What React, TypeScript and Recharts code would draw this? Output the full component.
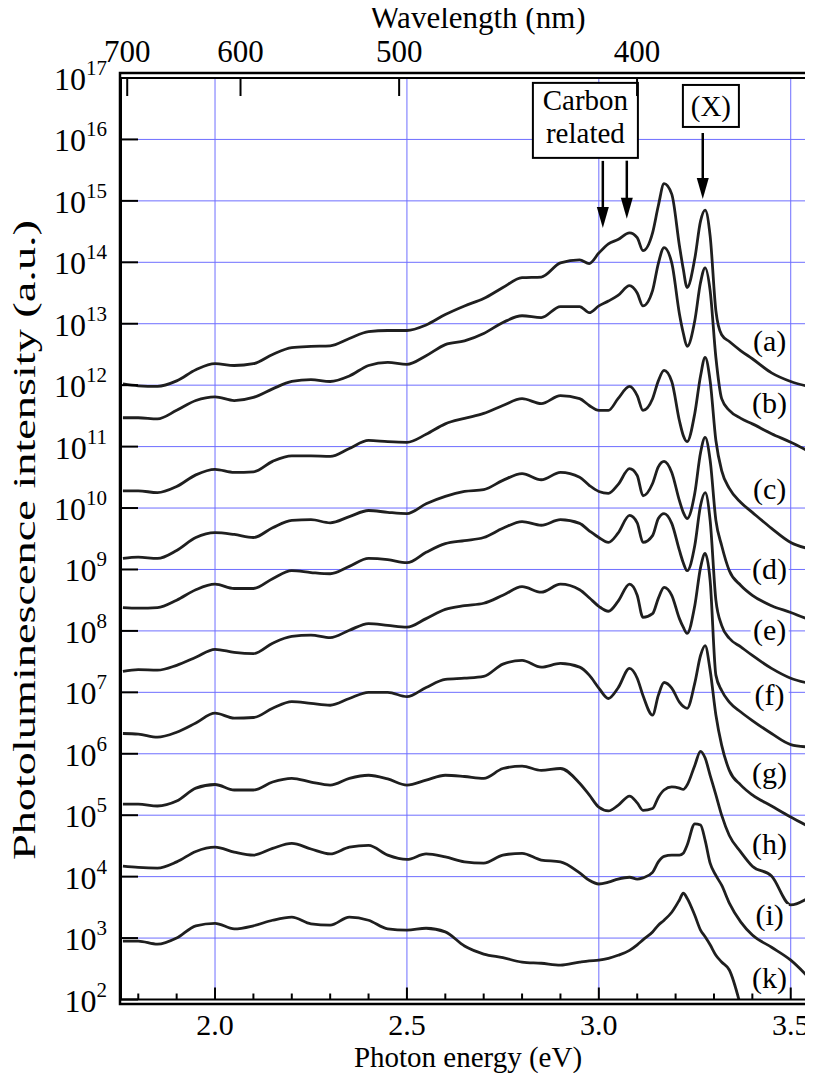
import { LineChart, Line, XAxis, YAxis, ReferenceLine, ReferenceDot } from 'recharts';

const SERIF = '"Liberation Serif", "Times New Roman", Times, serif';
const INK = '#1f1f1f';
const GRID = '#6e6eff';
const HC = 1239.84; // eV * nm

// photon energy grid (eV)
const energies = [
  1.76, 1.8, 1.85, 1.9, 1.95, 2.0, 2.05, 2.1, 2.15, 2.2, 2.25, 2.3, 2.35, 2.4, 2.45, 2.5, 2.55, 2.6, 2.65, 2.7, 2.75, 2.8, 2.85, 2.9, 2.95,
  2.975, 3.0, 3.025, 3.05, 3.08, 3.1, 3.115, 3.14, 3.155, 3.17, 3.19, 3.21, 3.22, 3.23, 3.25, 3.265, 3.277, 3.29, 3.305, 3.32, 3.34, 3.37, 3.4, 3.45, 3.5, 3.545,
];

// log10 of PL intensity per sample (curves are stacked by offset)
const logA = [
  12.02, 11.99, 11.98, 12.07, 12.25, 12.35, 12.32, 12.35, 12.5, 12.61, 12.63, 12.64, 12.76, 12.87, 12.89, 12.89, 12.98, 13.15, 13.29, 13.41, 13.59, 13.75, 13.76, 13.99, 14.04,
  13.98, 14.15, 14.3, 14.37, 14.48, 14.4, 14.19, 14.48, 14.92, 15.28, 15.11, 14.27, 13.89, 13.59, 14.06, 14.67, 14.85, 14.43, 13.21, 12.82, 12.71, 12.56, 12.43, 12.2, 12.06, 11.98,
];
const logB = [
  11.47, 11.47, 11.45, 11.59, 11.75, 11.81, 11.75, 11.8, 11.94, 12.06, 12.09, 12.06, 12.15, 12.32, 12.37, 12.34, 12.48, 12.66, 12.72, 12.84, 13.02, 13.13, 13.1, 13.28, 13.28,
  13.18, 13.29, 13.37, 13.46, 13.62, 13.5, 13.29, 13.54, 13.98, 14.24, 13.99, 13.16, 12.85, 12.63, 13.05, 13.67, 13.91, 13.54, 12.45, 11.78, 11.59, 11.46, 11.37, 11.21, 11.07, 10.93,
];
const logC = [
  10.28, 10.28, 10.25, 10.35, 10.54, 10.63, 10.58, 10.59, 10.76, 10.85, 10.85, 10.84, 10.97, 11.1, 11.08, 11.07, 11.2, 11.37, 11.46, 11.54, 11.67, 11.78, 11.7, 11.83, 11.78,
  11.67, 11.59, 11.59, 11.78, 11.98, 11.83, 11.59, 11.78, 12.07, 12.24, 12.06, 11.42, 11.18, 11.08, 11.54, 12.15, 12.45, 12.07, 11.1, 10.61, 10.32, 10.09, 9.93, 9.67, 9.44, 9.34,
];
const logD = [
  9.18, 9.2, 9.18, 9.31, 9.52, 9.6, 9.57, 9.52, 9.68, 9.8, 9.81, 9.76, 9.86, 9.96, 9.93, 9.91, 10.07, 10.19, 10.27, 10.3, 10.45, 10.56, 10.46, 10.58, 10.5,
  10.37, 10.27, 10.24, 10.38, 10.64, 10.53, 10.2, 10.4, 10.67, 10.76, 10.58, 10.12, 9.93, 9.83, 10.24, 10.9, 11.15, 10.78, 9.8, 9.39, 8.98, 8.74, 8.58, 8.41, 8.3, 8.19,
];
const logE = [
  8.38, 8.37, 8.38, 8.5, 8.67, 8.76, 8.69, 8.69, 8.85, 8.98, 8.95, 8.93, 9.05, 9.18, 9.16, 9.11, 9.28, 9.42, 9.47, 9.52, 9.67, 9.78, 9.72, 9.81, 9.75,
  9.63, 9.52, 9.44, 9.59, 9.88, 9.76, 9.44, 9.55, 9.83, 9.91, 9.75, 9.31, 9.11, 8.98, 9.39, 10.04, 10.25, 9.8, 8.5, 8.09, 7.88, 7.74, 7.6, 7.39, 7.23, 7.15,
];
const logF = [
  7.34, 7.37, 7.36, 7.44, 7.57, 7.7, 7.65, 7.63, 7.8, 7.91, 7.93, 7.89, 8.01, 8.12, 8.09, 8.06, 8.2, 8.35, 8.41, 8.45, 8.58, 8.72, 8.63, 8.76, 8.67,
  8.54, 8.4, 8.32, 8.48, 8.76, 8.58, 8.22, 8.28, 8.53, 8.71, 8.58, 8.2, 8.06, 7.96, 8.41, 9.03, 9.26, 8.82, 7.28, 7.03, 6.84, 6.68, 6.54, 6.33, 6.15, 6.11,
];
const logG = [
  6.33, 6.32, 6.27, 6.35, 6.5, 6.66, 6.58, 6.59, 6.74, 6.85, 6.82, 6.79, 6.9, 7.0, 7.0, 6.93, 7.08, 7.21, 7.23, 7.26, 7.46, 7.52, 7.41, 7.47, 7.41,
  7.28, 7.07, 6.9, 7.07, 7.39, 7.23, 6.95, 6.63, 6.95, 7.16, 7.07, 6.84, 6.77, 6.74, 7.15, 7.6, 7.76, 7.36, 6.63, 6.14, 5.73, 5.49, 5.33, 5.15, 4.97, 4.82,
];
const logH = [
  5.18, 5.18, 5.15, 5.23, 5.44, 5.5, 5.41, 5.41, 5.54, 5.6, 5.54, 5.49, 5.6, 5.65, 5.59, 5.49, 5.57, 5.65, 5.63, 5.6, 5.76, 5.8, 5.73, 5.76, 5.52,
  5.33, 5.13, 5.07, 5.16, 5.31, 5.2, 5.08, 5.11, 5.29, 5.41, 5.46, 5.44, 5.42, 5.49, 5.81, 6.04, 5.93, 5.65, 5.33, 5.0, 4.67, 4.4, 4.17, 4.01, 3.54, 3.65,
];
const logI = [
  4.17, 4.15, 4.14, 4.24, 4.41, 4.48, 4.4, 4.35, 4.46, 4.54, 4.45, 4.37, 4.48, 4.51, 4.35, 4.28, 4.37, 4.32, 4.24, 4.22, 4.35, 4.38, 4.27, 4.24, 4.06,
  3.94, 3.88, 3.91, 3.96, 3.99, 3.96, 3.98, 4.07, 4.24, 4.33, 4.35, 4.35, 4.38, 4.51, 4.86, 4.84, 4.59, 4.22, 4.02, 3.86, 3.57, 3.26, 3.05, 2.85, 2.64, 2.37,
];
const logK = [
  2.95, 2.95, 2.9, 3.0, 3.2, 3.24, 3.15, 3.2, 3.29, 3.34, 3.23, 3.21, 3.34, 3.29, 3.15, 3.13, 3.16, 3.1, 2.87, 2.74, 2.68, 2.61, 2.59, 2.56, 2.61,
  2.63, 2.64, 2.67, 2.72, 2.8, 2.89, 2.97, 3.1, 3.21, 3.29, 3.42, 3.62, 3.73, 3.65, 3.37, 3.13, 3.02, 2.89, 2.72, 2.61, 2.48, 1.88, null, null, null, null,
];

const curveNames = ['a', 'b', 'c', 'd', 'e', 'f', 'g', 'h', 'i', 'k'];
const curveLogs: (number | null)[][] = [logA, logB, logC, logD, logE, logF, logG, logH, logI, logK];

// where the (a)...(k) tags sit
const labelEnergy = 3.445;
const labelLogs = [12.68, 11.67, 10.28, 8.98, 7.98, 6.92, 5.65, 4.5, 3.34, 2.32];

const energyTicks = [1.8, 1.9, 2.0, 2.1, 2.2, 2.3, 2.4, 2.5, 2.6, 2.7, 2.8, 2.9, 3.0, 3.1, 3.2, 3.3, 3.4, 3.5];
const gridEnergies = [2.0, 2.5, 3.0, 3.5];
const wavelengthTicks = [700, 600, 500, 400];
const decadeTicks = [1e2, 1e3, 1e4, 1e5, 1e6, 1e7, 1e8, 1e9, 1e10, 1e11, 1e12, 1e13, 1e14, 1e15, 1e16, 1e17];

const rows = energies.map((energy, i) => {
  const row: Record<string, number | null> = { energy };
  curveNames.forEach((name, j) => {
    const v = curveLogs[j][i];
    row[name] = v === null ? null : Math.pow(10, v);
  });
  return row;
});

const DOMAIN: [number, number] = [1.755, 3.545];

function EnergyTick({ x, y, payload }: any) {
  const v = payload.value as number;
  const major = Math.abs(v * 2 - Math.round(v * 2)) < 1e-6;
  return (
    <g>
      <line x1={x} x2={x} y1={y} y2={y - (major ? 12 : 6)} stroke="#000" strokeWidth={2} />
      {major && (
        <text x={x} y={y + 35} textAnchor="middle" fontSize={30} fontFamily={SERIF} fill="#000">
          {v.toFixed(1)}
        </text>
      )}
    </g>
  );
}

function WavelengthTick({ x, y, payload }: any) {
  const nm = Math.round(HC / payload.value);
  return (
    <g>
      <line x1={x} x2={x} y1={y} y2={y + 18} stroke="#000" strokeWidth={2} />
      <text x={x} y={y - 16} textAnchor="middle" fontSize={31} fontFamily={SERIF} fill="#000">
        {nm}
      </text>
    </g>
  );
}

function DecadeTick({ x, y, payload }: any) {
  const exp = Math.round(Math.log10(payload.value));
  return (
    <g>
      <line x1={x} x2={x + 17} y1={y} y2={y} stroke="#000" strokeWidth={2} />
      <text x={x - 14} y={y + 12} textAnchor="end" fontSize={32} fontFamily={SERIF} fill="#000">
        10
        <tspan dy={-15} fontSize={21}>
          {exp}
        </tspan>
      </text>
    </g>
  );
}

function Arrow(len: number) {
  return ({ cx, cy }: any) => (
    <g>
      <line x1={cx} x2={cx} y1={cy - len} y2={cy - 18} stroke="#000" strokeWidth={2.5} />
      <polygon points={`${cx - 6},${cy - 21} ${cx + 6},${cy - 21} ${cx},${cy}`} fill="#000" />
    </g>
  );
}

function TextBox(lines: string[], w: number, h: number, baselines: number[]) {
  return ({ cx, cy }: any) => (
    <g>
      <rect x={cx - w / 2} y={cy - h / 2} width={w} height={h} fill="#fff" stroke="#000" strokeWidth={2} />
      {lines.map((t, i) => (
        <text key={t} x={cx} y={cy + baselines[i]} textAnchor="middle" fontSize={29} fontFamily={SERIF} fill="#000">
          {t}
        </text>
      ))}
    </g>
  );
}

function CurveTag(name: string) {
  return ({ cx, cy }: any) => (
    <g>
      <rect x={cx - 19} y={cy - 13} width={38} height={24} fill="#fff" />
      <text x={cx} y={cy + 8} textAnchor="middle" fontSize={30} fontFamily={SERIF} fill="#000">
        ({name})
      </text>
    </g>
  );
}

export default function App() {
  return (
    <div style={{ position: 'relative', width: 805, height: 1065, fontFamily: SERIF }}>
      <LineChart width={805} height={1065} data={rows} margin={{ top: 69, right: 5, bottom: 72.5, left: 112 }}>
        <XAxis
          dataKey="energy"
          type="number"
          domain={DOMAIN}
          allowDataOverflow
          ticks={energyTicks}
          interval={0}
          height={1}
          tickSize={0}
          tickMargin={0}
          tickLine={false}
          tick={(p: any) => <EnergyTick {...p} />}
          axisLine={{ stroke: '#000', strokeWidth: 2 }}
        />
        <XAxis
          xAxisId="nm"
          dataKey="energy"
          orientation="top"
          type="number"
          domain={DOMAIN}
          allowDataOverflow
          ticks={wavelengthTicks.map((nm) => HC / nm)}
          interval={0}
          height={1}
          tickSize={0}
          tickMargin={0}
          tickLine={false}
          tick={(p: any) => <WavelengthTick {...p} />}
          axisLine={{ stroke: '#000', strokeWidth: 2 }}
        />
        <YAxis
          type="number"
          scale="log"
          domain={[1e2, 1e17]}
          allowDataOverflow
          ticks={decadeTicks}
          interval={0}
          width={1}
          tickSize={0}
          tickMargin={0}
          tickLine={false}
          tick={(p: any) => <DecadeTick {...p} />}
          axisLine={{ stroke: '#000', strokeWidth: 2 }}
        />

        {decadeTicks.slice(1, -1).map((v) => (
          <ReferenceLine key={`h${v}`} y={v} stroke={GRID} strokeWidth={1} />
        ))}
        {gridEnergies.map((v) => (
          <ReferenceLine key={`v${v}`} x={v} stroke={GRID} strokeWidth={1} />
        ))}

        {curveNames.map((name, i) => (
          <ReferenceDot key={`tag${name}`} x={labelEnergy} y={Math.pow(10, labelLogs[i])} r={0} shape={CurveTag(name)} />
        ))}

        {curveNames.map((name) => (
          <Line
            key={name}
            dataKey={name}
            type="monotone"
            stroke={INK}
            strokeWidth={2.8}
            dot={false}
            activeDot={false}
            isAnimationActive={false}
          />
        ))}

        <ReferenceDot x={3.0104} y={Math.pow(10, 14.56)} r={0} shape={Arrow(67)} />
        <ReferenceDot x={3.0729} y={Math.pow(10, 14.71)} r={0} shape={Arrow(58)} />
        <ReferenceDot x={3.2708} y={Math.pow(10, 15.03)} r={0} shape={Arrow(66)} />
        <ReferenceDot
          x={2.965}
          y={Math.pow(10, 16.31)}
          r={0}
          shape={TextBox(['Carbon', 'related'], 105, 75, [-10, 23])}
        />
        <ReferenceDot x={3.292} y={Math.pow(10, 16.545)} r={0} shape={TextBox(['(X)'], 56, 42, [10])} />
      </LineChart>

      {/* frame and axis titles, in page coordinates */}
      <svg width={813} height={1081} style={{ position: 'absolute', left: -8, top: -8, pointerEvents: 'none' }}>
        <rect x={120} y={73} width={689} height={931} fill="none" stroke="#000" strokeWidth={2.5} />
        <text x={478} y={28} textAnchor="middle" fontSize={31} fontFamily={SERIF} fill="#000">
          Wavelength (nm)
        </text>
        <text x={468} y={1066.5} textAnchor="middle" fontSize={29} fontFamily={SERIF} fill="#000">
          Photon energy (eV)
        </text>
        <text
          transform="translate(35,540) rotate(-90)"
          textAnchor="middle"
          fontSize={31}
          fontFamily={SERIF}
          textLength={640}
          lengthAdjust="spacingAndGlyphs"
          fill="#000"
        >
          Photoluminescence intensity (a.u.)
        </text>
      </svg>
    </div>
  );
}
